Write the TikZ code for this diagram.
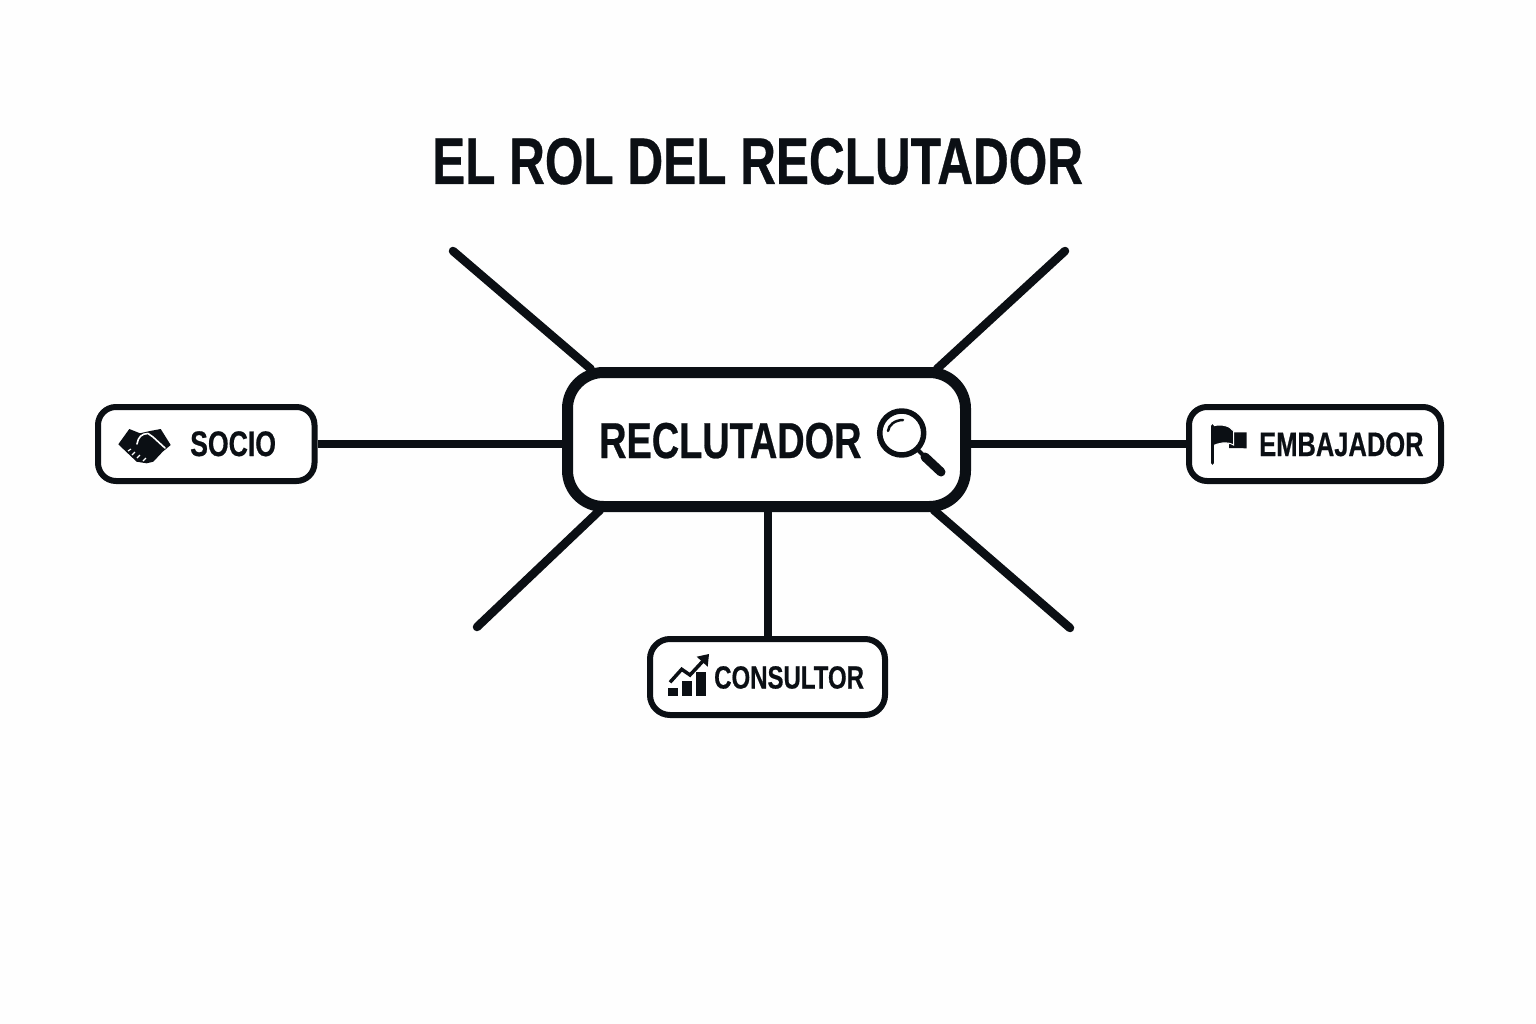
\documentclass[tikz,border=0pt]{standalone}
\usepackage{fontspec}
\setmainfont{Liberation Sans}[FakeStretch=0.75,BoldFeatures={FakeBold=0.5}]
\usetikzlibrary{calc}
\definecolor{ink}{HTML}{0B0F14}
\tikzset{
  x=1pt,y=-1pt,
  hub/.style={draw=ink,fill=white,line width=11pt,rounded corners=36pt,minimum width=398pt,minimum height=134pt,inner sep=0pt},
  role/.style={draw=ink,fill=white,line width=6pt,rounded corners=18pt,inner sep=0pt},
  link/.style={draw=ink,line width=8pt},
  spoke/.style={draw=ink,line width=8.5pt,line cap=round,shorten >=-3pt},
  label/.style={text=ink,inner sep=0pt,anchor=base west,font=\bfseries},
  iconfill/.style={fill=ink,draw=none},
  iconline/.style={draw=ink,line cap=round,line join=round}
}
\begin{document}
\begin{tikzpicture}
\useasboundingbox (0,0) rectangle (1536,1024);
\fill[white!99.5!black] (0,0) rectangle (1536,1024);
\node[label,font=\bfseries\fontsize{66}{66}\selectfont] (title) at (432,184) {EL ROL DEL RECLUTADOR};

% free ends of the spokes
\coordinate (tl) at (453,251);
\coordinate (tr) at (1065,251);
\coordinate (bl) at (477,627);
\coordinate (br) at (1070,628);

% nodes
\node[hub] (c) at (766.5,439.5) {};
\node[role,minimum width=216.5pt,minimum height=74pt] (socio) at (206.25,444) {};
\node[role,minimum width=235pt,minimum height=76pt,rounded corners=20pt] (cons) at (767.5,677) {};
\node[role,minimum width=252pt,minimum height=74pt] (emb) at (1315,444) {};

% connectors
\draw[spoke] (tl) -- ([xshift=26.5pt]c.north west);
\draw[spoke] (tr) -- ([xshift=-32pt]c.north east);
\draw[spoke] (bl) -- ([xshift=36pt]c.south west);
\draw[spoke] (br) -- ([xshift=-35pt]c.south east);
\draw[link] (socio.east) -- (socio.east -| c.west);
\draw[link] (emb.west) -- (emb.west -| c.east);
\draw[link] (cons.north) -- (cons.north |- c.south);

% labels
\node[label,font=\bfseries\fontsize{50.5}{50.5}\selectfont] (lc) at (599,458) {RECLUTADOR};
\node[label,font=\bfseries\fontsize{35.5}{35.5}\selectfont] (ls) at (190,456) {SOCIO};
\node[label,font=\bfseries\fontsize{32}{32}\selectfont] (lk) at (714,688.5) {CONSULTOR};
\node[label,font=\bfseries\fontsize{34}{34}\selectfont] (le) at (1259,456) {EMBAJADOR};

% magnifier
\draw[iconline,line width=5.5pt] (901.7,433) circle (22);
\draw[iconline,line width=2.5pt] (888,431) .. controls (888.5,425) and (895,420) .. (903,420);
\draw[iconline,line width=4pt] (918,450) -- (925,457);
\draw[iconline,line width=9pt] (925,457) -- (941,472);

% handshake
\fill[iconfill] (118.3,444.3) -- (129.3,429) -- (140,433.3) -- (150,431) -- (160.7,429) -- (170.7,445)
  -- (162.7,451.7) -- (153.3,461.7) -- (146.7,463.3) -- (136.7,461.7) -- (126.7,452.3) -- cycle;
\draw[white,line width=1.6pt,line cap=round,line join=round] (137,444) .. controls (138,437) and (142,433.5) .. (148,433.5)
  -- (153,437) -- (165,448);
\draw[white,line width=1.2pt] (128,451) -- (131,449) (132,455) -- (135,452) (137,458) -- (140,455) (143,461) -- (146,458);

% chart
\fill[iconfill] (668.3,687.7) rectangle (677.7,696);
\fill[iconfill] (681.7,680.7) rectangle (692.3,696);
\fill[iconfill] (696,672.3) rectangle (706,696);
\draw[ink,line width=3.5pt,line join=miter] (670,682.3) -- (681.7,669.3) -- (690,675) -- (703,661);
\fill[iconfill] (696.7,656.7) -- (709,654) -- (707.7,666.7) -- cycle;

% flag
\fill[iconfill] (1230,432.3) -- (1246.7,432.3) -- (1246.7,448.3) -- (1229,448) -- cycle;
\fill[iconfill,draw=white,line width=1pt] (1212.3,426) .. controls (1222,423.5) and (1230,426) .. (1233.5,431)
  -- (1233.5,445) .. controls (1227,441) and (1219,443) .. (1212.3,446) -- cycle;
\draw[iconline,line width=3.6pt] (1212.3,426) -- (1212.3,463);
\end{tikzpicture}
\end{document}
